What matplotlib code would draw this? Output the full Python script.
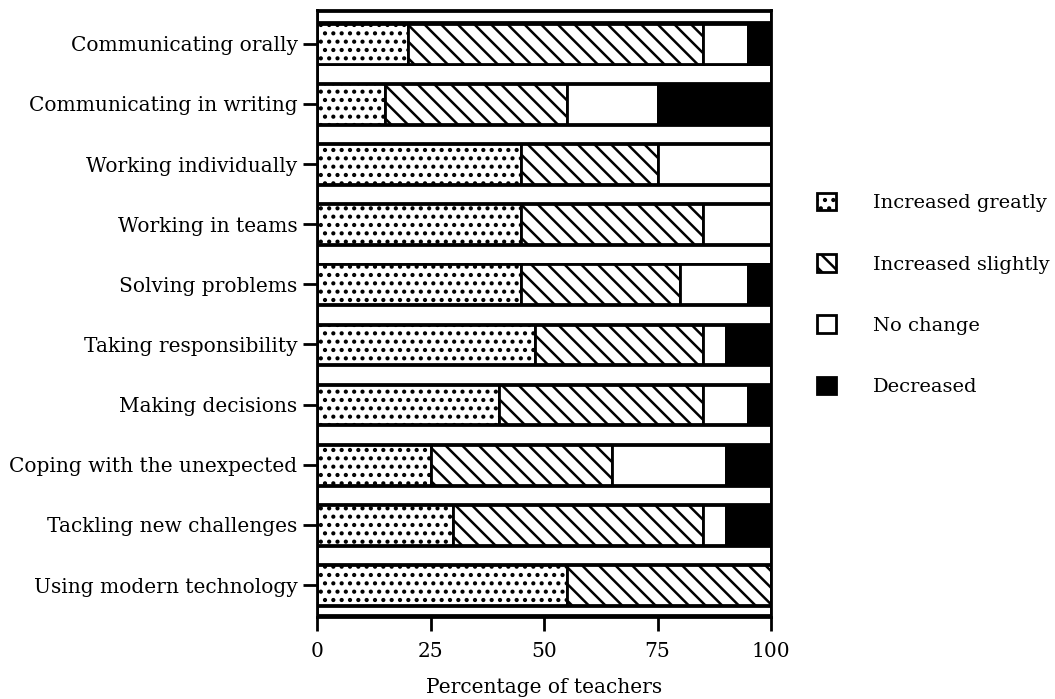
import matplotlib
matplotlib.use("Agg")
import matplotlib.pyplot as plt
from matplotlib.patches import Patch
import numpy as np

categories = [
    "Communicating orally",
    "Communicating in writing",
    "Working individually",
    "Working in teams",
    "Solving problems",
    "Taking responsibility",
    "Making decisions",
    "Coping with the unexpected",
    "Tackling new challenges",
    "Using modern technology",
]
increased_greatly = [20, 15, 45, 45, 45, 48, 40, 25, 30, 55]
increased_slightly = [65, 40, 30, 40, 35, 37, 45, 40, 55, 45]
no_change = [10, 20, 25, 15, 15, 5, 10, 25, 5, 0]
decreased = [5, 25, 0, 0, 5, 10, 5, 10, 10, 0]
series_labels = ["Increased greatly", "Increased slightly", "No change", "Decreased"]
xticks = [0, 25, 50, 75, 100]

plt.rcParams["font.family"] = ["DejaVu Serif"]
plt.rcParams["hatch.linewidth"] = 1.8
FS = 14.5

fig = plt.figure(figsize=(10.55, 6.99), dpi=100)
ax = fig.add_axes([0.3005, 0.1173, 0.4303, 0.8684])
ax.set_facecolor("black")

n = len(categories)
y = np.arange(n)
lw = 2.0
bar_h = 0.66
styles = [
    dict(color="white", hatch=".."),
    dict(color="white", hatch="\\\\"),
    dict(color="white", hatch=None),
    dict(color="black", hatch=None),
]
left = np.zeros(n)
handles = []
for vals, st, lab in zip([increased_greatly, increased_slightly, no_change, decreased], styles, series_labels):
    vals = np.array(vals, dtype=float)
    ax.barh(y, vals, left=left, height=bar_h, color=st["color"], hatch=st["hatch"],
            edgecolor="black", linewidth=lw, zorder=3)
    left += vals
    handles.append(Patch(facecolor=st["color"], hatch=st["hatch"], edgecolor="black", linewidth=2.0))

# white separator strips between rows
sep = np.arange(n - 1) + 0.5
ax.barh(sep, 100, height=0.31, color="white", edgecolor="black", linewidth=lw, zorder=2)
ax.barh([-0.45], 100, height=0.18, color="white", edgecolor="black", linewidth=lw, zorder=2)
ax.barh([n - 1 + 0.42], 100, height=0.15, color="white", edgecolor="black", linewidth=lw, zorder=2)

ax.set_xlim(0, 100)
ax.set_ylim(n - 1 + 0.53, -0.56)
ax.set_yticks(y)
ax.set_yticklabels(categories, fontsize=FS)
ax.set_xticks(xticks)
ax.set_xticklabels([str(t) for t in xticks], fontsize=FS)
ax.tick_params(axis="both", direction="out", length=10, width=2, color="black")
ax.tick_params(axis="y", pad=4)
ax.tick_params(axis="x", pad=8)
for s in ax.spines.values():
    s.set_linewidth(2)
    s.set_zorder(5)
ax.set_xlabel("Percentage of teachers", fontsize=FS, labelpad=12)

leg = fig.legend(handles, series_labels, loc="upper left", bbox_to_anchor=(0.767, 0.735),
                 frameon=False, fontsize=14, handlelength=1.0, handleheight=1.0,
                 labelspacing=2.15, handletextpad=1.9, borderaxespad=0)

fig.savefig("out.png", dpi=100)
